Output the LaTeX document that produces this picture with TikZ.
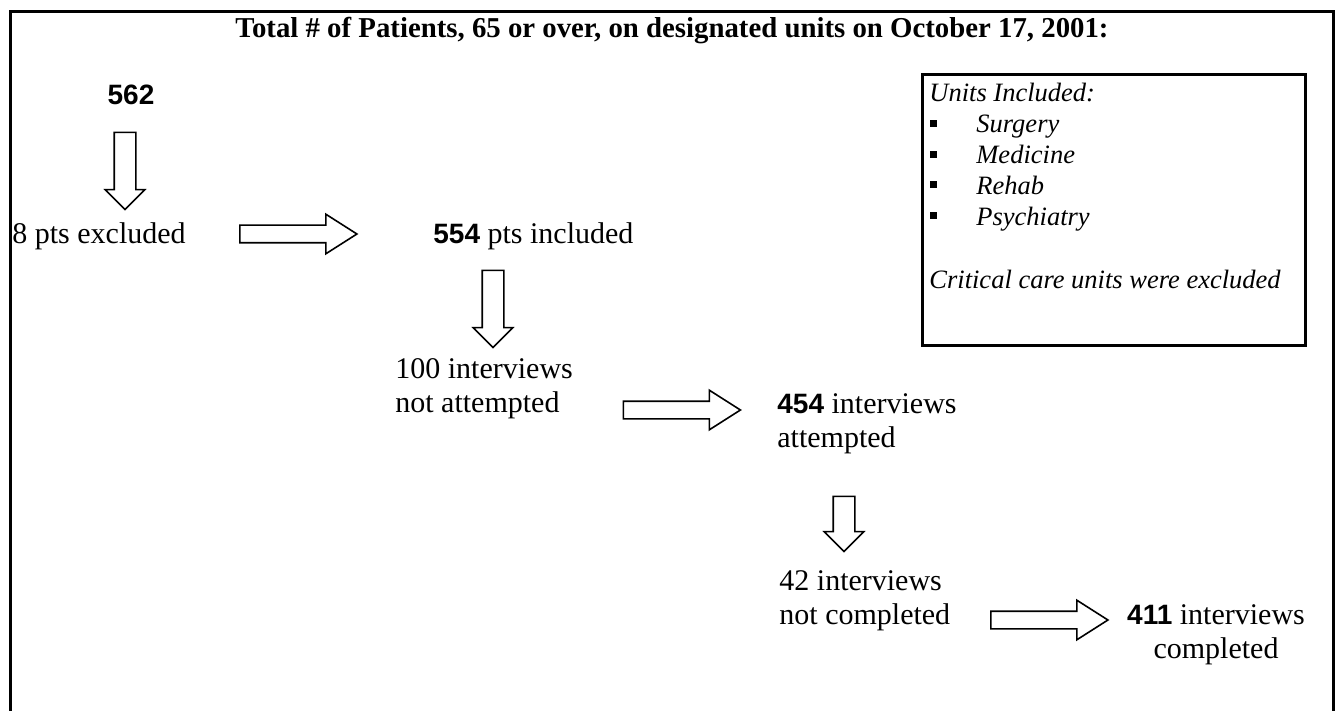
\documentclass[tikz,border=0pt]{standalone}
\usepackage{fontspec}
\setmainfont{Liberation Serif}
\setsansfont{Liberation Sans}
\usetikzlibrary{shapes.arrows}

\newcommand{\ptcount}[1]{{\fontsize{14}{16}\selectfont\sffamily\bfseries #1}}

\tikzset{
  flowtext/.style={font=\fontsize{15}{17}\selectfont, inner sep=0pt, align=left},
  downarr/.style={single arrow, draw, line width=0.8pt, rotate=-90, inner sep=5pt,
    single arrow head extend=4.5pt, single arrow tip angle=90},
  rightarr/.style={single arrow, draw, line width=0.8pt, inner sep=4pt,
    single arrow head extend=5.5pt, single arrow tip angle=65},
  unittext/.style={font=\fontsize{13.25}{15}\selectfont\itshape, inner sep=0pt, anchor=base west},
}

\begin{document}
\begin{tikzpicture}[x=0.5pt, y=-0.5pt]
  \useasboundingbox (0,0) rectangle (1338,711);
  \clip (0,0) rectangle (1338,711);

  % Outer frame (open at the bottom)
  \draw[line width=1.5pt] (10,725) -- (10,11.5) -- (1333.5,11.5) -- (1333.5,725);

  % Title
  \node[font=\fontsize{14.4}{17}\selectfont\bfseries, inner sep=0pt, anchor=base] (title) at (672,38)
    {Total \# of Patients, 65 or over, on designated units on October 17, 2001:};

  % Patient flow (two-line nodes sit on the baseline of their last line)
  \node[flowtext, anchor=base] (total) at (131,105) {\ptcount{562}};
  \node[downarr, minimum height=38.5pt] (d1) at (125,165.5) {};
  \node[flowtext, anchor=base west] (excluded) at (12,244) {8 pts excluded};
  \node[rightarr, minimum height=58.5pt] (r1) at (291.5,234) {};
  \node[flowtext, anchor=base west] (included) at (433,244) {\ptcount{554} pts included};
  \node[downarr, minimum height=38.5pt] (d2) at (493,303.5) {};
  \node[flowtext, anchor=base west] (notattempted) at (395,412) {100 interviews\\not attempted};
  \node[rightarr, minimum height=58.5pt] (r2) at (675,410) {};
  \node[flowtext, anchor=base west] (attempted) at (777,447) {\ptcount{454} interviews\\attempted};
  \node[downarr, minimum height=27.5pt] (d3) at (844,518.5) {};
  \node[flowtext, anchor=base west] (notcompleted) at (779,624) {42 interviews\\not completed};
  \node[rightarr, minimum height=58.5pt] (r3) at (1042.5,620) {};
  \node[flowtext, align=center, anchor=base] (completed) at (1216,658) {\ptcount{411} interviews\\completed};

  % Units box
  \node[draw, line width=1.5pt, minimum width=191.5pt, minimum height=135pt, inner sep=0pt] (unitsbox) at (1113.5,210) {};
  \node[unittext] (unitshead) at (929,102) {Units Included:};
  \foreach \unit [count=\i] in {Surgery,Medicine,Rehab,Psychiatry} {
    \node[fill, minimum size=3.5pt, inner sep=0pt] (bullet\i) at (933,{123.5+30.7*(\i-1)}) {};
    \node[unittext] (unit\i) at (976,{133+30.7*(\i-1)}) {\unit};
  }
  \node[unittext] (critical) at (929,288) {Critical care units were excluded};

\end{tikzpicture}
\end{document}
